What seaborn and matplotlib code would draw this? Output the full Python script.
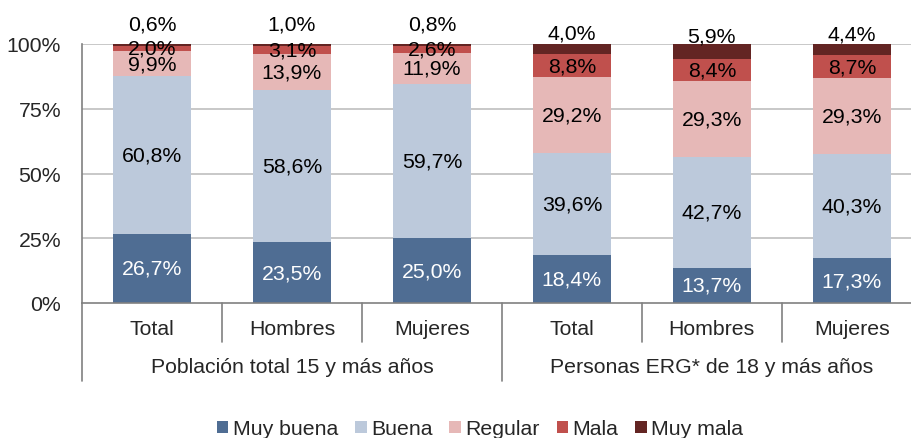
import numpy as np
import pandas as pd
import seaborn as sns
import matplotlib.pyplot as plt
from matplotlib.patches import Patch
import matplotlib.transforms as mtransforms

# categories (two groups of three bars)
categories = ["Total", "Hombres", "Mujeres", "Total", "Hombres", "Mujeres"]
groups = ["Población total 15 y más años", "Personas ERG* de 18 y más años"]

# series values (%), bottom to top
muy_buena = [26.7, 23.5, 25.0, 18.4, 13.7, 17.3]
buena = [60.8, 58.6, 59.7, 39.6, 42.7, 40.3]
regular = [9.9, 13.9, 11.9, 29.2, 29.3, 29.3]
mala = [2.0, 3.1, 2.6, 8.8, 8.4, 8.7]
muy_mala = [0.6, 1.0, 0.8, 4.0, 5.9, 4.4]

series_names = ["Muy buena", "Buena", "Regular", "Mala", "Muy mala"]
colors = ["#4F6D93", "#BCC9DB", "#E6B8B7", "#C0504D", "#632523"]

FS = 15.3

sns.set_theme(style="white")
plt.rcParams["font.family"] = ["Liberation Sans", "DejaVu Sans"]
plt.rcParams["font.size"] = FS

fig = plt.figure(figsize=(9.12, 4.39), dpi=100)
ax = fig.add_axes([82 / 912, 1 - 304 / 439, 830 / 912, 259 / 439])

grid_col = "#BFBFBF"
for v in [25, 50, 75, 100]:
    ax.axhline(v, color=grid_col, lw=1.2, zorder=0)

values = [muy_buena, buena, regular, mala, muy_mala]
pos = list(range(len(categories)))
bottom = np.zeros(len(categories))
for name, vals, col in zip(series_names, values, colors):
    df = pd.DataFrame({"pos": pos, "val": vals})
    sns.barplot(data=df, x="pos", y="val", color=col, width=0.56,
                bottom=bottom, saturation=1, ax=ax, zorder=2,
                edgecolor="none", linewidth=0)
    vals = np.array(vals)
    centers = bottom + vals / 2
    for i, (c, v) in enumerate(zip(centers, vals)):
        txt = f"{v:.1f}%".replace(".", ",")
        if name == "Muy mala":
            off = 21 if i < 3 else 16
            ax.annotate(txt, (i, c), xytext=(0, off * 0.72), textcoords="offset points",
                        ha="center", va="center", color="black", fontsize=FS,
                        annotation_clip=False)
        else:
            ax.text(i, c, txt, ha="center", va="center", fontsize=FS,
                    color="white" if name == "Muy buena" else "black", zorder=5)
    bottom = bottom + vals

ax.set_ylim(0, 100)
ax.set_xlim(-0.5, 5.43)
ax.set_yticks([0, 25, 50, 75, 100])
ax.set_yticklabels([f"{t}%" for t in [0, 25, 50, 75, 100]], fontsize=FS)
ax.set_xticks(pos)
ax.set_xticklabels([])
ax.set_xlabel("")
ax.set_ylabel("")
ax.tick_params(axis="y", direction="out", length=6, color="#808080", width=1.2, pad=9)
ax.tick_params(axis="x", length=0)

for s in ["top", "right"]:
    ax.spines[s].set_visible(False)
ax.spines["left"].set_color("#808080")
ax.spines["left"].set_linewidth(1.2)
ax.spines["bottom"].set_color("#808080")
ax.spines["bottom"].set_linewidth(1.2)

trans = mtransforms.blended_transform_factory(ax.transData, ax.transAxes)
# category labels
for i, c in enumerate(categories):
    ax.text(i, -0.10, c, transform=trans, ha="center", va="center", fontsize=FS)
# group labels
for g, name in enumerate(groups):
    ax.text(g * 3 + 1, -0.247, name, transform=trans, ha="center", va="center", fontsize=FS)
# dividers
for x in [0.5, 1.5, 3.5, 4.5]:
    ax.plot([x, x], [0, -0.15], transform=trans, color="#808080", lw=1.2, clip_on=False)
for x in [-0.5, 2.5]:
    ax.plot([x, x], [0, -0.30], transform=trans, color="#808080", lw=1.2, clip_on=False)

handles = [Patch(facecolor=c, edgecolor="none") for c in colors]
fig.legend(handles, series_names, loc="center", bbox_to_anchor=(480 / 912, 1 - 430 / 439),
           ncol=5, frameon=False, fontsize=FS, handlelength=0.55, handleheight=0.55,
           handletextpad=0.2, columnspacing=0.8)

fig.savefig("out.png", dpi=100)
